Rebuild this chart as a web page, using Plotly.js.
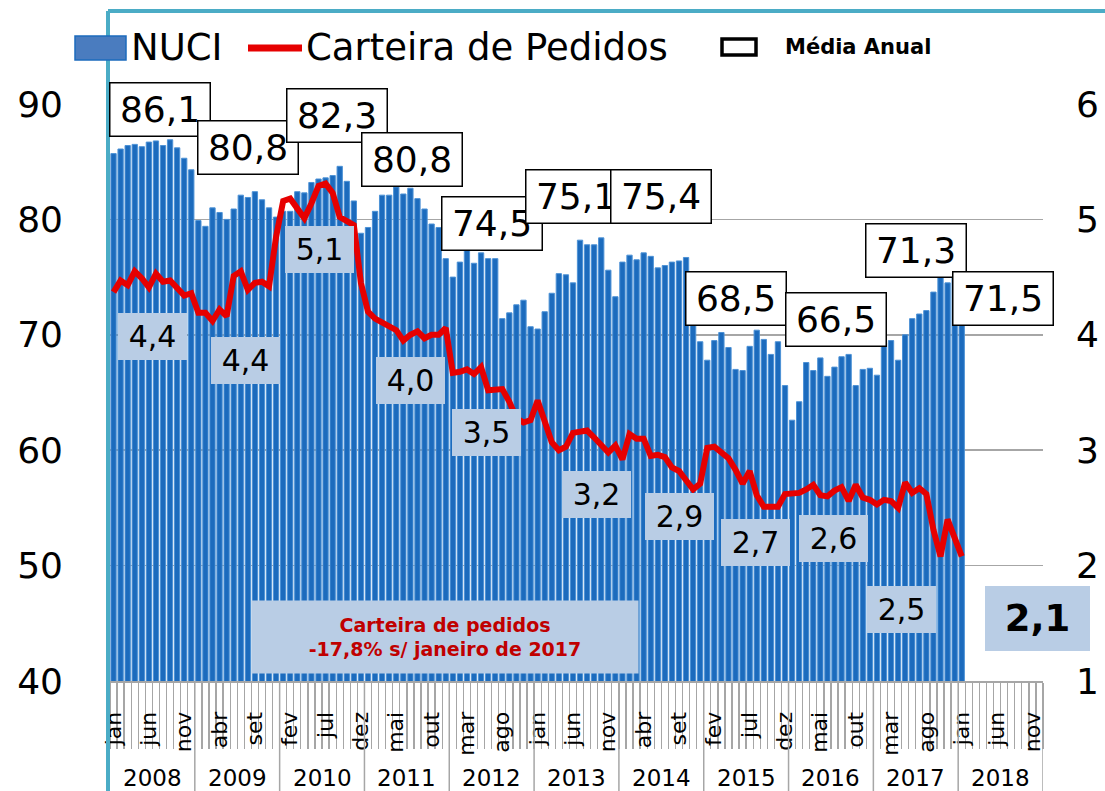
<!DOCTYPE html>
<html>
<head>
<meta charset="utf-8">
<script src="https://cdn.plot.ly/plotly-3.0.1.min.js"></script>
<style>
html,body{margin:0;padding:0;background:#ffffff;}
#chart{width:1105px;height:791px;}
</style>
</head>
<body>
<div id="chart"></div>
<script>
// ---------- DATA ----------
const monthNames = ['jan','fev','mar','abr','mai','jun','jul','ago','set','out','nov','dez'];
const years = ['2008','2009','2010','2011','2012','2013','2014','2015','2016','2017','2018'];

// NUCI (%), monthly Jan 2008 - Jan 2018
const nuci = [
  85.7, 86.1, 86.4, 86.5, 86.3, 86.7, 86.8, 86.4, 86.9, 86.2, 85.3, 84.3,
  79.9, 79.4, 81.0, 80.6, 80.0, 80.9, 82.1, 81.9, 82.4, 81.7, 81.0, 80.2,
  80.7, 80.7, 82.4, 82.3, 83.2, 83.5, 83.6, 83.8, 84.6, 83.3, 81.6, 78.8,
  79.3, 80.7, 82.1, 82.1, 82.8, 82.2, 82.7, 81.8, 80.9, 79.6, 79.3, 76.6,
  75.0, 76.3, 77.5, 76.2, 77.1, 76.6, 76.6, 71.4, 71.9, 72.6, 73.0, 70.7,
  70.5, 72.0, 73.6, 75.3, 75.2, 74.5, 78.2, 77.8, 77.8, 78.4, 75.6, 73.3,
  76.3, 76.9, 76.5, 77.1, 76.8, 75.8, 76.0, 76.3, 76.4, 76.7, 71.9, 69.4,
  67.8, 69.5, 70.2, 68.9, 67.0, 66.9, 69.0, 70.4, 69.6, 68.3, 69.4, 65.6,
  62.6, 64.2, 67.6, 66.9, 68.0, 66.4, 67.2, 68.1, 68.3, 65.6, 67.0, 67.1,
  66.5, 69.3, 69.5, 67.8, 70.0, 71.4, 71.8, 72.1, 73.7, 75.2, 74.5, 75.0,
  71.5
];

// Carteira de Pedidos (right axis), monthly Jan 2008 - Jan 2018
const carteira = [
  4.37, 4.47, 4.43, 4.55, 4.49, 4.41, 4.53, 4.46, 4.47, 4.40, 4.34, 4.36,
  4.19, 4.19, 4.12, 4.22, 4.16, 4.51, 4.55, 4.39, 4.45, 4.46, 4.42, 4.85,
  5.16, 5.18, 5.10, 5.01, 5.14, 5.29, 5.31, 5.23, 5.02, 4.98, 4.95, 4.45,
  4.20, 4.14, 4.11, 4.08, 4.04, 3.95, 4.00, 4.03, 3.97, 4.00, 4.00, 4.06,
  3.67, 3.68, 3.70, 3.66, 3.72, 3.52, 3.53, 3.53, 3.42, 3.28, 3.24, 3.26,
  3.43, 3.24, 3.07, 3.00, 3.03, 3.15, 3.16, 3.17, 3.11, 3.04, 2.98, 3.04,
  2.92, 3.14, 3.10, 3.10, 2.95, 2.96, 2.94, 2.85, 2.82, 2.74, 2.66, 2.71,
  3.02, 3.03, 2.98, 2.93, 2.83, 2.71, 2.82, 2.61, 2.51, 2.51, 2.51, 2.62,
  2.62, 2.63, 2.66, 2.70, 2.61, 2.60, 2.65, 2.68, 2.56, 2.70, 2.59, 2.57,
  2.53, 2.57, 2.56, 2.50, 2.72, 2.63, 2.67, 2.62, 2.31, 2.08, 2.40, 2.25,
  2.08
];

// Annual averages (Média Anual)
const mediaNuci = [86.1, 80.8, 82.3, 80.8, 74.5, 75.1, 75.4, 68.5, 66.5, 71.3, 71.5];
const mediaCarteira = [4.4, 4.4, 5.1, 4.0, 3.5, 3.2, 2.9, 2.7, 2.6, 2.5, 2.1];

const noteLines = ['Carteira de pedidos', '-17,8% s/ janeiro de 2017'];
const legendNames = ['NUCI', 'Carteira de Pedidos', 'Média Anual'];

// ---------- LAYOUT HELPERS ----------
const W = 1105, H = 791;
const L = 110, R = 1043, T = 104, B = 681;
const PX = x => (x - L) / (R - L);
const PY = y => (B - y) / (B - T);
const fmt = v => v.toFixed(1).replace('.', ',');
const FONT = 'DejaVu Sans, Verdana, sans-serif';

// box centres (pixels) for the annual-average labels
const nuciBoxPos = [[160,109.5],[247.5,147],[336.5,115.5],[412,159],[491.7,223],[576,196.7],[661,196.3],[736,298],[835.5,319],[916,250.7],[1003,298.5]];
const cartBoxPos = [[152,336.5],[245.5,360],[319.5,250],[410.5,380],[486.3,432],[596.3,494],[679.5,516],[755.5,542.7],[833.8,538.3],[901,609],[1037.5,618]];

const nMonths = years.length * 12;
const xIdx = nuci.map((_, i) => i);
const tickvals = [], ticktext = [];
for (let i = 0; i < nMonths; i += 5) { tickvals.push(i); ticktext.push(monthNames[i % 12]); }
const minorVals = [];
for (let i = 0; i <= nMonths; i++) minorVals.push(i - 0.5);

const traces = [
  {
    type: 'bar', x: xIdx, y: nuci, name: legendNames[0], yaxis: 'y',
    marker: { color: '#1c6bbd', line: { color: '#4d92d6', width: 1 } },
    hoverinfo: 'skip'
  },
  {
    type: 'scatter', mode: 'lines', x: xIdx, y: carteira, name: legendNames[1], yaxis: 'y2',
    line: { color: '#e60000', width: 6 }, hoverinfo: 'skip'
  }
];

const annotations = [];
mediaNuci.forEach((v, j) => {
  annotations.push({
    xref: 'paper', yref: 'paper', x: PX(nuciBoxPos[j][0]), y: PY(nuciBoxPos[j][1]),
    xanchor: 'center', yanchor: 'middle', showarrow: false,
    text: fmt(v), font: { family: FONT, size: 36, color: '#000' },
    bgcolor: '#ffffff', bordercolor: '#000000', borderwidth: 1.5, borderpad: 2,
    width: 95, height: 48
  });
});
mediaCarteira.forEach((v, j) => {
  const last = j === mediaCarteira.length - 1;
  annotations.push({
    xref: 'paper', yref: 'paper', x: PX(cartBoxPos[j][0]), y: PY(cartBoxPos[j][1]),
    xanchor: 'center', yanchor: 'middle', showarrow: false,
    text: last ? '<b>' + fmt(v) + '</b>' : fmt(v),
    font: { family: FONT, size: last ? 37 : 30, color: '#000' },
    bgcolor: '#b9cde5', borderwidth: 0, borderpad: 2,
    width: last ? 101 : 65, height: last ? 61 : 43
  });
});
// note box
annotations.push({
  xref: 'paper', yref: 'paper', x: PX(445), y: PY(636.5), xanchor: 'center', yanchor: 'middle',
  showarrow: false, text: '<b>' + noteLines.join('<br>') + '</b>',
  font: { family: FONT, size: 19, color: '#c00000' },
  bgcolor: '#b9cde5', borderpad: 2, width: 382, height: 68
});
// year labels
years.forEach((yr, j) => {
  annotations.push({
    xref: 'x', yref: 'paper', x: 5.5 + 12 * j, y: PY(778), xanchor: 'center', yanchor: 'middle',
    showarrow: false, text: yr, font: { family: FONT, size: 23, color: '#000' }
  });
});
// legend texts
annotations.push({ xref: 'paper', yref: 'paper', x: PX(129), y: PY(48), xanchor: 'left', yanchor: 'middle',
  showarrow: false, text: legendNames[0], font: { family: FONT, size: 37, color: '#000' } });
annotations.push({ xref: 'paper', yref: 'paper', x: PX(304), y: PY(48), xanchor: 'left', yanchor: 'middle',
  showarrow: false, text: legendNames[1], font: { family: FONT, size: 37, color: '#000' } });
annotations.push({ xref: 'paper', yref: 'paper', x: PX(783), y: PY(47), xanchor: 'left', yanchor: 'middle',
  showarrow: false, text: '<b>' + legendNames[2] + '</b>', font: { family: FONT, size: 21, color: '#000' } });

const shapes = [];
// teal frame
shapes.push({ type: 'line', xref: 'paper', yref: 'paper', x0: PX(108), x1: PX(W + 5), y0: PY(11), y1: PY(11),
  line: { color: '#4bacc6', width: 4 } });
shapes.push({ type: 'line', xref: 'paper', yref: 'paper', x0: PX(108), x1: PX(108), y0: PY(11), y1: PY(H + 5),
  line: { color: '#4bacc6', width: 4 } });
// year separators
for (let j = 0; j < years.length; j++) {
  shapes.push({ type: 'line', xref: 'x', yref: 'paper', x0: 11.5 + 12 * j, x1: 11.5 + 12 * j, y0: 0, y1: PY(H + 5),
    line: { color: '#a6a6a6', width: 1.5 } });
}
// legend symbols
shapes.push({ type: 'rect', xref: 'paper', yref: 'paper', x0: PX(75), x1: PX(126), y0: PY(36), y1: PY(60),
  fillcolor: '#4a7cbf', line: { color: '#1c6bbd', width: 1.5 } });
shapes.push({ type: 'line', xref: 'paper', yref: 'paper', x0: PX(248), x1: PX(302), y0: PY(48), y1: PY(48),
  line: { color: '#e60000', width: 7 } });
shapes.push({ type: 'rect', xref: 'paper', yref: 'paper', x0: PX(722), x1: PX(756), y0: PY(39), y1: PY(55),
  fillcolor: '#ffffff', line: { color: '#000000', width: 3.5 } });

const layout = {
  width: W, height: H,
  margin: { l: L, r: W - R, t: T, b: H - B, pad: 0 },
  paper_bgcolor: '#ffffff', plot_bgcolor: '#ffffff',
  showlegend: false, bargap: 0.25, hovermode: false,
  font: { family: FONT, color: '#000' },
  xaxis: {
    range: [-0.5, nMonths - 0.5], tickmode: 'array', tickvals: tickvals, ticktext: ticktext,
    tickangle: -90, ticks: '', ticklabelstandoff: 20,
    tickfont: { family: FONT, size: 22, color: '#000' },
    showgrid: false, zeroline: false, showline: true, linecolor: '#a6a6a6', linewidth: 2,
    minor: { tickmode: 'array', tickvals: minorVals, ticks: 'outside', ticklen: 66, tickcolor: '#a6a6a6', tickwidth: 1.3, showgrid: false },
    fixedrange: true
  },
  yaxis: {
    range: [40, 90], tickmode: 'linear', tick0: 40, dtick: 10, ticks: '', ticklabelstandoff: 46,
    tickfont: { family: FONT, size: 36, color: '#000' },
    showgrid: true, gridcolor: '#a6a6a6', gridwidth: 1.5, zeroline: false, showline: false, fixedrange: true
  },
  yaxis2: {
    range: [1, 6], overlaying: 'y', side: 'right', tickmode: 'linear', tick0: 1, dtick: 1, ticks: '',
    ticklabelstandoff: 32, tickfont: { family: FONT, size: 36, color: '#000' },
    showgrid: false, zeroline: false, showline: false, fixedrange: true
  },
  annotations: annotations,
  shapes: shapes
};

Plotly.newPlot('chart', traces, layout, { staticPlot: true, displayModeBar: false });
</script>
</body>
</html>
